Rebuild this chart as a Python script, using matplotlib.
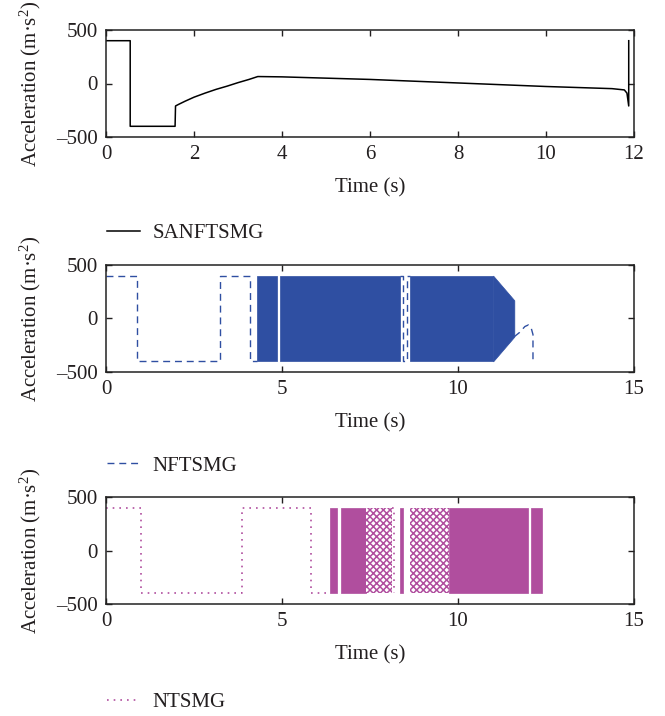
import matplotlib
matplotlib.use("Agg")
import matplotlib.pyplot as plt

plt.rcParams["font.family"] = ["Liberation Serif", "DejaVu Serif"]
plt.rcParams["mathtext.fontset"] = "custom"
plt.rcParams["mathtext.rm"] = "Liberation Serif"
plt.rcParams["mathtext.it"] = "Liberation Serif:italic"
plt.rcParams["hatch.linewidth"] = 1.1

# SANFTSMG (top panel)
sanftsmg_t = [0, 0.55, 0.55, 1.57, 1.58, 1.65, 1.8, 2.0, 2.25, 2.5, 2.75, 3.0, 3.25,
              3.45, 4.0, 6.0, 8.0, 10.0, 11.5, 11.78, 11.84, 11.88, 11.88]
sanftsmg_a = [400, 400, -400, -400, -210, -195, -165, -128, -90, -55, -25, 8, 38,
              65, 62, 38, 5, -28, -48, -60, -90, -210, 400]

# NFTSMG (middle panel)
nftsmg_t = [0, 0.88, 0.88, 3.25, 3.25, 4.1, 4.1, 4.3]
nftsmg_a = [400, 400, -400, -400, 400, 400, -400, -400]
nftsmg_gap_t = [8.35, 8.45, 8.45, 8.55, 8.55, 8.65]
nftsmg_gap_a = [400, 400, -400, -400, 400, 400]
nftsmg_tail_t = [11.6, 11.75, 11.9, 12.0, 12.08, 12.13, 12.13]
nftsmg_tail_a = [-170, -130, -75, -60, -90, -150, -400]
nftsmg_blocks = [(4.3, 4.85), (4.93, 8.35), (8.65, 11.0)]
nftsmg_taper_t = [11.0, 11.6]
nftsmg_taper_top = [400, 170]
nftsmg_taper_bot = [-400, -170]

# NTSMG (bottom panel)
ntsmg_t = [0, 1.0, 1.0, 3.85, 3.85, 5.82, 5.82, 6.3]
ntsmg_a = [400, 400, -400, -400, 400, 400, -400, -400]
ntsmg_gap_t = [8.12, 8.17, 8.17]
ntsmg_gap_a = [400, 400, -400]
ntsmg_blocks = [(6.35, 6.55), (6.68, 7.4), (8.35, 8.44), (9.75, 12.0), (12.08, 12.4)]
ntsmg_lattice = [(7.4, 8.12), (8.64, 9.75)]

amp = 400
blue = "#2f4fa2"
magenta = "#b04e9e"
text_c = "#231f20"

fig = plt.figure(figsize=(6.65, 7.16), dpi=100)
left, width, height = 106 / 665, 528 / 665, 107 / 716
ax1 = fig.add_axes([left, 1 - 137 / 716, width, height])
ax2 = fig.add_axes([left, 1 - 372 / 716, width, height])
ax3 = fig.add_axes([left, 1 - 604 / 716, width, height])

ax1.plot(sanftsmg_t, sanftsmg_a, color="black", lw=1.1, label="SANFTSMG")

ax2.plot(nftsmg_t, nftsmg_a, color=blue, lw=1.0, ls=(0, (5, 3.5)), label="NFTSMG")
ax2.plot(nftsmg_gap_t, nftsmg_gap_a, color=blue, lw=1.0, ls=(0, (5, 3.5)))
ax2.plot(nftsmg_tail_t, nftsmg_tail_a, color=blue, lw=1.0, ls=(0, (5, 3.5)))
for a, b in nftsmg_blocks:
    ax2.fill_between([a, b], -amp, amp, facecolor=blue, edgecolor=blue, lw=0.5)
ax2.fill_between(nftsmg_taper_t, nftsmg_taper_bot, nftsmg_taper_top,
                 facecolor=blue, edgecolor=blue, lw=0.5)

ax3.plot(ntsmg_t, ntsmg_a, color=magenta, lw=1.2, ls=(0, (1, 3)), label="NTSMG")
ax3.plot(ntsmg_gap_t, ntsmg_gap_a, color=magenta, lw=1.2, ls=(0, (1, 3)))
for a, b in ntsmg_blocks:
    ax3.fill_between([a, b], -amp, amp, facecolor=magenta, edgecolor=magenta, lw=0.5)
for a, b in ntsmg_lattice:
    ax3.fill_between([a, b], -amp, amp, facecolor="white", edgecolor=magenta,
                     hatch="xxxxx", lw=0)

legend_y = [233, 466, 702]
for ax, xmax, xticks, ly in [(ax1, 12, [0, 2, 4, 6, 8, 10, 12], legend_y[0]),
                             (ax2, 15, [0, 5, 10, 15], legend_y[1]),
                             (ax3, 15, [0, 5, 10, 15], legend_y[2])]:
    ax.set_xlim(0, xmax)
    ax.set_ylim(-500, 500)
    ax.set_xticks(xticks)
    ax.set_yticks([-500, 0, 500])
    ax.set_yticklabels(["\u2013500", "0", "500"])
    ax.tick_params(direction="in", top=True, right=True, length=4, width=1,
                   labelsize=15, pad=6, colors=text_c)
    for s in ax.spines.values():
        s.set_linewidth(1.1)
        s.set_color("#222222")
    ax.set_xlabel("Time (s)", fontsize=15, color=text_c, labelpad=10)
    ax.set_ylabel("Acceleration (m\u00b7s$^{2}$)", fontsize=15, color=text_c, labelpad=9)
    ax.legend(loc="center left", bbox_to_anchor=(107 / 665, 1 - ly / 716),
              bbox_transform=fig.transFigure, frameon=False, fontsize=15,
              handlelength=1.6, handletextpad=0.6, borderpad=0, borderaxespad=0,
              labelcolor=text_c)

fig.savefig("out.png", dpi=100)
